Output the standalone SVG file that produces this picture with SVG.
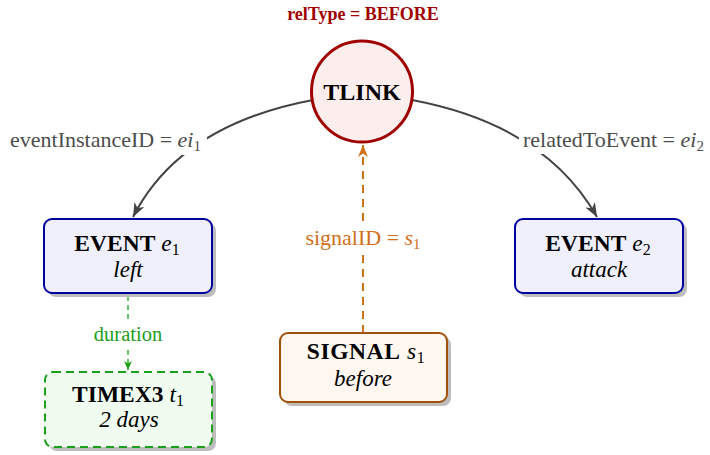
<svg xmlns="http://www.w3.org/2000/svg" width="710" height="455" viewBox="0 0 710 455">
<defs>
<style>
text{font-family:"Liberation Serif","Times New Roman",serif;}
.b{font-weight:bold;}
.i{font-style:italic;}
.shadow{fill:#bdbdbd;}
.lbl{font-size:22px;}
.ttl{font-size:23.5px;}
.sub{font-size:23px;font-style:italic;}
</style>
<marker id="ahg" markerUnits="userSpaceOnUse" markerWidth="16" markerHeight="12" refX="14" refY="6" orient="auto">
<path d="M0,0.5 L14,6 L0,11.5 L4,6 z" fill="#444"/>
</marker>
<marker id="aho" markerUnits="userSpaceOnUse" markerWidth="14" markerHeight="12" refX="12" refY="5" orient="auto">
<path d="M0,0 L12,5 L0,10 L3.5,5 z" fill="#d0701a"/>
</marker>
<marker id="ahgr" markerUnits="userSpaceOnUse" markerWidth="12" markerHeight="10" refX="9" refY="4" orient="auto">
<path d="M0,0 L9,4 L0,8 L2.5,4 z" fill="#1aa01a"/>
</marker>
</defs>
<rect width="710" height="455" fill="#ffffff"/>

<g id="connectors">
<path d="M313,100 Q180,125 133,217" fill="none" stroke="#444" stroke-width="2" marker-end="url(#ahg)"/>
<path d="M412,100 Q545,125 597,217" fill="none" stroke="#444" stroke-width="2" marker-end="url(#ahg)"/>
<path d="M363,333 L363,145" fill="none" stroke="#d0701a" stroke-width="2" stroke-dasharray="8,6" marker-end="url(#aho)"/>
<path d="M128,296 L128,370" fill="none" stroke="#1aa01a" stroke-width="1.3" stroke-dasharray="5,4" marker-end="url(#ahgr)"/>
<rect x="0" y="126" width="207" height="29" fill="#fff"/>
<text x="201" y="147" class="lbl" fill="#4d4d4d" text-anchor="end">eventInstanceID = <tspan class="i">ei</tspan><tspan font-size="15" dy="4">1</tspan></text>
<rect x="519" y="126" width="191" height="28" fill="#fff"/>
<text x="523" y="147" class="lbl" fill="#4d4d4d">relatedToEvent = <tspan class="i">ei</tspan><tspan font-size="15" dy="4">2</tspan></text>
<rect x="297" y="224" width="132" height="31" fill="#fff"/>
<text x="363" y="245" class="lbl" fill="#d0701a" text-anchor="middle">signalID = <tspan class="i">s</tspan><tspan font-size="15" dy="4">1</tspan></text>
<rect x="90" y="320" width="76" height="27" fill="#fff"/>
<text x="128" y="341" font-size="20.5" fill="#1aa01a" text-anchor="middle">duration</text>
</g>

<g id="reltype">
<text x="363" y="20" class="b" font-size="18" fill="#a00000" text-anchor="middle">relType = BEFORE</text>
</g>

<g id="tlink">
<circle cx="362" cy="91.5" r="50.5" fill="#fdeeee" stroke="#a00000" stroke-width="3"/>
<text x="362" y="100" class="b" font-size="24" fill="#000" text-anchor="middle">TLINK</text>
</g>

<g id="event1">
<rect x="48" y="223" width="168" height="74" rx="8" class="shadow"/>
<rect x="44" y="219" width="168" height="74" rx="8" fill="#f0f0fc" stroke="#0000a0" stroke-width="2"/>
<text x="127" y="251" class="ttl" text-anchor="middle"><tspan class="b">EVENT</tspan> <tspan class="i">e</tspan><tspan font-size="16" dy="4">1</tspan></text>
<text x="128" y="277" class="sub" text-anchor="middle">left</text>
</g>

<g id="event2">
<rect x="519" y="223" width="168" height="74" rx="8" class="shadow"/>
<rect x="515" y="219" width="168" height="74" rx="8" fill="#f0f0fc" stroke="#0000a0" stroke-width="2"/>
<text x="598" y="251" class="ttl" text-anchor="middle"><tspan class="b">EVENT</tspan> <tspan class="i">e</tspan><tspan font-size="16" dy="4">2</tspan></text>
<text x="599" y="277" class="sub" text-anchor="middle">attack</text>
</g>

<g id="signal">
<rect x="284" y="337" width="167" height="69" rx="8" class="shadow"/>
<rect x="280" y="333" width="167" height="69" rx="8" fill="#fff7f0" stroke="#a0520a" stroke-width="2"/>
<text x="366" y="359" class="ttl" text-anchor="middle" letter-spacing="0.6"><tspan class="b">SIGNAL</tspan> <tspan class="i">s</tspan><tspan font-size="16" dy="4">1</tspan></text>
<text x="363" y="386" class="sub" text-anchor="middle">before</text>
</g>

<g id="timex">
<rect x="49" y="376" width="167" height="75" rx="8" class="shadow"/>
<rect x="45" y="372" width="167" height="75" rx="8" fill="#f0fcf0" stroke="#1aa01a" stroke-width="2" stroke-dasharray="8,5"/>
<text x="128" y="402" class="ttl" text-anchor="middle"><tspan class="b">TIMEX3</tspan> <tspan class="i">t</tspan><tspan font-size="16" dy="4">1</tspan></text>
<text x="129" y="427" class="sub" text-anchor="middle">2 days</text>
</g>
</svg>
